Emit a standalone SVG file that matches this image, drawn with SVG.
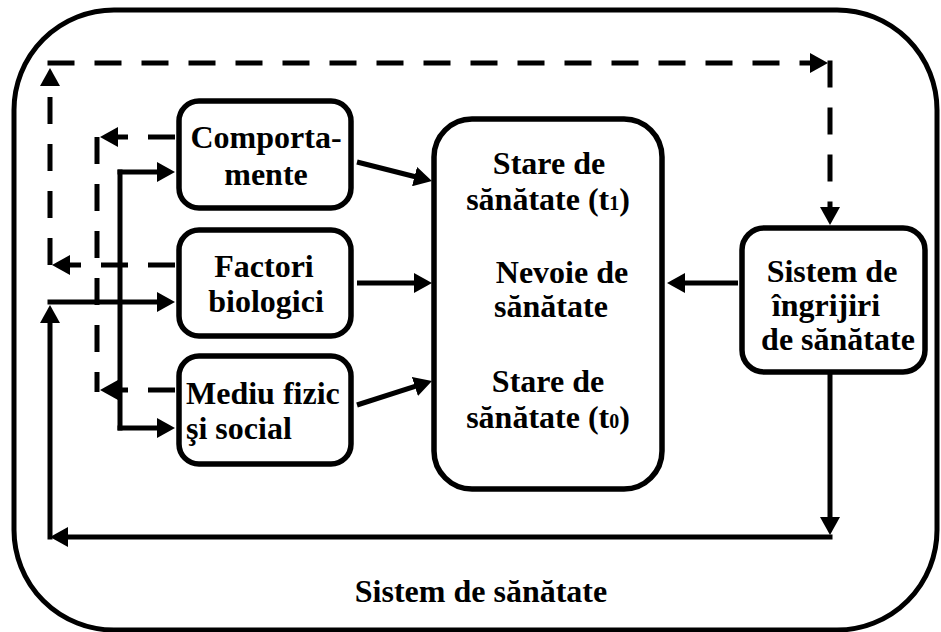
<svg xmlns="http://www.w3.org/2000/svg" width="941" height="632" viewBox="0 0 941 632">
<style>
.box{fill:#fff;stroke:#000;stroke-width:5.5}
.t{font-family:'Liberation Serif','DejaVu Serif',serif;font-weight:700;font-size:32px;fill:#000}
.c{text-anchor:middle}
.sub{font-size:20px}
.ln{fill:none;stroke:#000;stroke-width:5}
.ds{fill:none;stroke:#000;stroke-width:5;stroke-dasharray:27 20}
</style>
<defs>
<marker id="ah" markerUnits="userSpaceOnUse" viewBox="0 0 18 20" markerWidth="18" markerHeight="20" refX="10" refY="10" orient="auto">
<path d="M0,0 L18,10 L0,20 Z" fill="#000"/>
</marker>
</defs>
<rect x="14" y="10" width="923" height="620" rx="100" ry="100" fill="#fff" stroke="#000" stroke-width="5"/>

<g id="connectors">
<path class="ds" d="M175,265 H60" marker-end="url(#ah)"/>
<path class="ds" d="M50,265 V76" marker-end="url(#ah)"/>
<path class="ds" d="M47.5,63 H820" marker-end="url(#ah)"/>
<path class="ds" d="M830,60.5 V217" marker-end="url(#ah)"/>
<path class="ds" d="M175,137 H108" marker-end="url(#ah)"/>
<path class="ds" d="M97,137 V392"/>
<path class="ds" d="M175,390 H108" marker-end="url(#ah)"/>

<path class="ln" d="M357,162 L424.2,179" marker-end="url(#ah)"/>
<path class="ln" d="M357,283 H424" marker-end="url(#ah)"/>
<path class="ln" d="M357,405 L424.4,383.4" marker-end="url(#ah)"/>
<path class="ln" d="M738,283 H675" marker-end="url(#ah)"/>
<path class="ln" d="M470,393 V240" marker-end="url(#ah)"/>
<path class="ln" d="M830,374 V527" marker-end="url(#ah)"/>
<path class="ln" d="M832.5,537 H58" marker-end="url(#ah)"/>
<path class="ln" d="M50,539.5 V313" marker-end="url(#ah)"/>
<path class="ln" d="M47.5,302 H167" marker-end="url(#ah)"/>
<path class="ln" d="M120,169.5 V430.5"/>
<path class="ln" d="M117.5,172 H167" marker-end="url(#ah)"/>
<path class="ln" d="M117.5,428 H167" marker-end="url(#ah)"/>
</g>

<g id="comportamente">
<rect class="box" x="179" y="101" width="172" height="107" rx="20"/>
<text class="t c" x="266" y="148">Comporta-</text>
<text class="t c" x="266" y="185">mente</text>
</g>

<g id="factori">
<rect class="box" x="179" y="230" width="172" height="106" rx="20"/>
<text class="t c" x="264" y="277">Factori</text>
<text class="t c" x="266" y="312">biologici</text>
</g>

<g id="mediu">
<rect class="box" x="179" y="356" width="172" height="108" rx="20"/>
<text class="t" x="186" y="404">Mediu fizic</text>
<text class="t" x="186" y="439">şi social</text>
</g>

<g id="stare">
<rect class="box" x="434" y="119" width="228" height="370" rx="38"/>
<text class="t c" x="549" y="174">Stare de</text>
<text class="t c" x="548" y="210">sănătate (t<tspan class="sub">1</tspan>)</text>
<text class="t c" x="562" y="283">Nevoie de</text>
<text class="t c" x="551" y="317">sănătate</text>
<text class="t c" x="548" y="392">Stare de</text>
<text class="t c" x="548" y="428">sănătate (t<tspan class="sub">0</tspan>)</text>
</g>

<g id="sistem-ingrijiri">
<rect class="box" x="742" y="228" width="183" height="144" rx="22"/>
<text class="t c" x="832" y="282">Sistem de</text>
<text class="t c" x="826" y="316">îngrijiri</text>
<text class="t c" x="838" y="350">de sănătate</text>
</g>

<g id="sistem-sanatate">
<text class="t c" x="481" y="602">Sistem de sănătate</text>
</g>
</svg>
